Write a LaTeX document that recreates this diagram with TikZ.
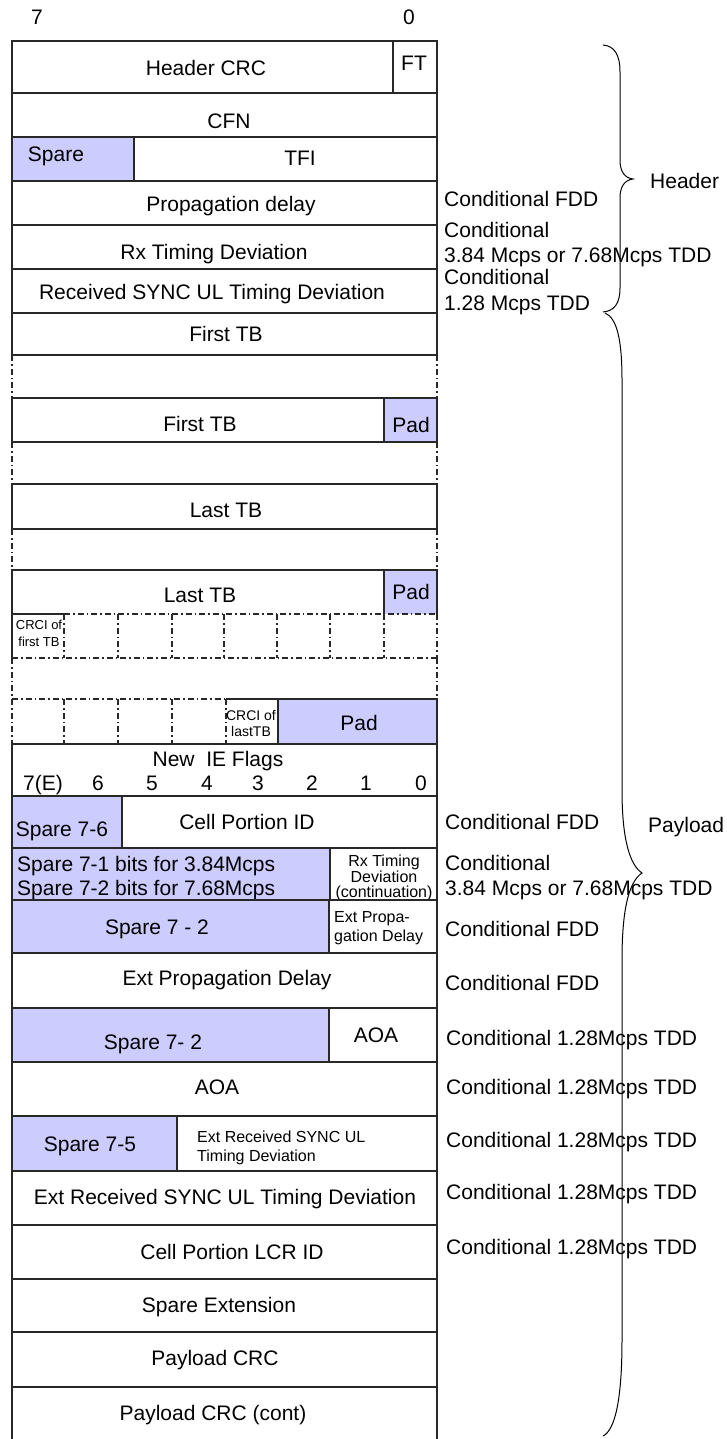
\documentclass[tikz,border=0pt]{standalone}
\usepackage{fontspec}
\setmainfont{Liberation Sans}
\definecolor{sparefill}{RGB}{204,204,255}
\definecolor{linec}{RGB}{40,40,40}
\begin{document}
\begin{tikzpicture}[x=1pt,y=-1pt,
  box/.style={draw=linec,line width=1.1pt},
  sparebox/.style={box,fill=sparefill},
  dd/.style={draw=linec,line width=1.1pt,dash pattern=on 6pt off 3pt on 1.5pt off 3pt},
  big/.style={font=\fontsize{21}{25}\selectfont,inner sep=0pt},
  mid/.style={font=\fontsize{16}{15.5}\selectfont,inner sep=0pt},
  small/.style={font=\fontsize{13}{16.5}\selectfont,inner sep=0pt},
  brace/.style={draw=black,line width=1pt}]
\useasboundingbox (0,0) rectangle (726,1439);
% bit numbers
\node[big,anchor=base] (b7) at (37,24.5) {7};
\node[big,anchor=base] (b0) at (409,24.5) {0};
% Header CRC / FT
\draw[box] (12,41) rectangle (437,93);
\draw[box] (393,41) -- (393,93);
\node[big,anchor=base] (hcrc) at (206,75.5) {Header CRC};
\node[big,anchor=base] (ft) at (414,70.5) {FT};
% CFN
\draw[box] (12,93) rectangle (437,137);
\node[big,anchor=base] (cfn) at (229,128.5) {CFN};
% Spare / TFI
\draw[box] (12,137) rectangle (437,181);
\draw[sparebox] (12,137) rectangle (134,181);
\node[big,anchor=base] (sp1) at (56,161.5) {Spare};
\node[big,anchor=base] (tfi) at (300,165.5) {TFI};
% Propagation delay
\draw[box] (12,181) rectangle (437,225);
\node[big,anchor=base] (pd) at (231,211.5) {Propagation delay};
% Rx Timing Deviation
\draw[box] (12,225) rectangle (437,269);
\node[big,anchor=base] (rxtd) at (214,259.5) {Rx Timing Deviation};
% Received SYNC UL
\draw[box] (12,269) rectangle (437,313);
\node[big,anchor=base] (rsync) at (212,299.5) {Received SYNC UL Timing Deviation};
% First TB
\draw[box] (12,313) rectangle (437,355);
\node[big,anchor=base] (ftb1) at (226,341.5) {First TB};
\draw[dd] (12,355) -- (12,398) (437,355) -- (437,398);
% First TB / Pad
\draw[box] (12,398) rectangle (437,442);
\draw[sparebox] (384,398) rectangle (437,442);
\node[big,anchor=base] (ftb2) at (200,431.5) {First TB};
\node[big,anchor=base] (pad1) at (411,432.5) {Pad};
\draw[dd] (12,442) -- (12,484) (437,442) -- (437,484);
% Last TB
\draw[box] (12,484) rectangle (437,529);
\node[big,anchor=base] (ltb1) at (226,517.5) {Last TB};
\draw[dd] (12,529) -- (12,570) (437,529) -- (437,570);
% Last TB / Pad
\fill[sparefill] (384,570) rectangle (437,614);
\draw[box] (12,614) -- (12,570) -- (437,570) -- (437,614);
\draw[box] (384,570) -- (384,614);
\node[big,anchor=base] (ltb2) at (200,602.5) {Last TB};
\node[big,anchor=base] (pad2) at (411,599.5) {Pad};
% CRCI row (first TB)
\draw[dd] (64,614) -- (437,614);
\draw[dd] (12,658) -- (437,658);
\foreach \x in {64,118,172,224,277,330,384,437} {\draw[dd] (\x,614) -- (\x,658);}
\draw[box] (64,614) -- (12,614) -- (12,658);
\node[small,align=center,anchor=north] (crci1) at (39,620) {CRCI of\\first TB};
\draw[dd] (12,658) -- (12,699) (437,658) -- (437,699);
% CRCI row (last TB)
\draw[dd] (12,699) -- (226,699);
\foreach \x in {12,64,118,172,226} {\draw[dd] (\x,699) -- (\x,744);}
\draw[box] (226,699) -- (278,699);
\draw[sparebox] (278,699) rectangle (437,744);
\node[font=\fontsize{14}{16}\selectfont,inner sep=0pt,align=center,anchor=north] (crci2) at (251,710) {CRCI of\\lastTB};
\node[big,anchor=base] (pad3) at (359,730.5) {Pad};
% New IE Flags
\draw[box] (12,744) rectangle (437,796);
\node[big,anchor=base] (nief) at (218,766.5) {New\ \ IE Flags};
\node[big,anchor=base] (f7) at (43,790.5) {7(E)};
\node[big,anchor=base] (f6) at (98,790.5) {6};
\node[big,anchor=base] (f5) at (152,790.5) {5};
\node[big,anchor=base] (f4) at (207,790.5) {4};
\node[big,anchor=base] (f3) at (258,790.5) {3};
\node[big,anchor=base] (f2) at (312,790.5) {2};
\node[big,anchor=base] (f1) at (366,790.5) {1};
\node[big,anchor=base] (f0) at (421,790.5) {0};
% Spare 7-6 / Cell Portion ID
\draw[box] (12,796) rectangle (437,848);
\draw[sparebox] (12,796) rectangle (122,848);
\node[big,anchor=base] (sp76) at (62,836.5) {Spare 7-6};
\node[big,anchor=base] (cpid) at (247,829.5) {Cell Portion ID};
% Spare 7-1 / Rx timing continuation
\draw[box] (12,848) rectangle (437,900);
\draw[sparebox] (12,848) rectangle (330,900);
\node[font=\fontsize{21}{24}\selectfont,inner sep=0pt,align=left,anchor=north west] (sp71) at (17,856) {Spare 7-1 bits for 3.84Mcps\\Spare 7-2 bits for 7.68Mcps};
\node[mid,align=center,anchor=north] (rxc) at (384,855) {Rx Timing\\Deviation\\(continuation)};
% Spare 7 - 2 / Ext Propagation Delay
\draw[box] (12,900) rectangle (437,953);
\draw[sparebox] (12,900) rectangle (329,953);
\node[big,anchor=base] (sp72a) at (157,934.5) {Spare 7 - 2};
\node[font=\fontsize{16}{19}\selectfont,inner sep=0pt,align=left,anchor=north west] (epd1) at (334,911) {Ext Propa-\\gation Delay};
% Ext Propagation Delay
\draw[box] (12,953) rectangle (437,1008);
\node[big,anchor=base] (epd2) at (227,985.5) {Ext Propagation Delay};
% Spare 7- 2 / AOA
\draw[box] (12,1008) rectangle (437,1062);
\draw[sparebox] (12,1008) rectangle (329,1062);
\node[big,anchor=base] (sp72b) at (153,1049.5) {Spare 7- 2};
\node[big,anchor=base] (aoa1) at (376,1042.5) {AOA};
% AOA
\draw[box] (12,1062) rectangle (437,1116);
\node[big,anchor=base] (aoa2) at (217,1094.5) {AOA};
% Spare 7-5 / Ext Received SYNC UL
\draw[box] (12,1116) rectangle (437,1171);
\draw[sparebox] (12,1116) rectangle (177,1171);
\node[big,anchor=base] (sp75) at (90,1151.5) {Spare 7-5};
\node[font=\fontsize{16}{19}\selectfont,inner sep=0pt,align=left,anchor=north west] (ersync1) at (197,1131) {Ext Received SYNC UL\\Timing Deviation};
% Ext Received SYNC UL Timing Deviation
\draw[box] (12,1171) rectangle (437,1225);
\node[big,anchor=base] (ersync2) at (225,1204.5) {Ext Received SYNC UL Timing Deviation};
% Cell Portion LCR ID
\draw[box] (12,1225) rectangle (437,1279);
\node[big,anchor=base] (cplcr) at (232,1259.5) {Cell Portion LCR ID};
% Spare Extension
\draw[box] (12,1279) rectangle (437,1332);
\node[big,anchor=base] (spext) at (219,1312.5) {Spare Extension};
% Payload CRC
\draw[box] (12,1332) rectangle (437,1387);
\node[big,anchor=base] (pcrc) at (215,1365.5) {Payload CRC};
% Payload CRC (cont)
\draw[box] (12,1445) -- (12,1387) -- (437,1387) -- (437,1445);
\node[big,anchor=base] (pcrc2) at (213,1420.5) {Payload CRC (cont)};
% Right-hand conditions
\node[big,anchor=base west] (c1) at (444,206.5) {Conditional FDD};
\node[font=\fontsize{21}{25.5}\selectfont,inner sep=0pt,align=left,anchor=north west] (c2) at (444,222) {Conditional\\3.84 Mcps or 7.68Mcps TDD};
\node[font=\fontsize{21}{26}\selectfont,inner sep=0pt,align=left,anchor=north west] (c3) at (444,269) {Conditional\\1.28 Mcps TDD};
\node[big,anchor=base west] (c4) at (445,829.5) {Conditional FDD};
\node[font=\fontsize{21}{25}\selectfont,inner sep=0pt,align=left,anchor=north west] (c5) at (445,855) {Conditional\\3.84 Mcps or 7.68Mcps TDD};
\node[big,anchor=base west] (c6) at (445,936.5) {Conditional FDD};
\node[big,anchor=base west] (c7) at (445,990.5) {Conditional FDD};
\node[big,anchor=base west] (c8) at (446,1045.5) {Conditional 1.28Mcps TDD};
\node[big,anchor=base west] (c9) at (446,1094.5) {Conditional 1.28Mcps TDD};
\node[big,anchor=base west] (c10) at (446,1147.5) {Conditional 1.28Mcps TDD};
\node[big,anchor=base west] (c11) at (446,1199.5) {Conditional 1.28Mcps TDD};
\node[big,anchor=base west] (c12) at (446,1254.5) {Conditional 1.28Mcps TDD};
% Braces
\draw[brace] (603,45) .. controls (614,46) and (620,54) .. (620,72) -- (620,160)
  .. controls (620,172) and (625,178) .. (633,179)
  .. controls (625,180) and (620,186) .. (620,198) -- (620,288)
  .. controls (620,304) and (614,311) .. (603,312);
\node[big,anchor=base west] (hdr) at (650,189) {Header};
\draw[brace] (605,313) .. controls (617,318) and (622,340) .. (622,380) -- (622,790)
  .. controls (622,840) and (630,865) .. (642,873)
  .. controls (630,881) and (622,905) .. (622,960) -- (622,1340)
  .. controls (622,1400) and (615,1430) .. (603,1436);
\node[big,anchor=base west] (pld) at (648,832.5) {Payload};
\end{tikzpicture}
\end{document}
